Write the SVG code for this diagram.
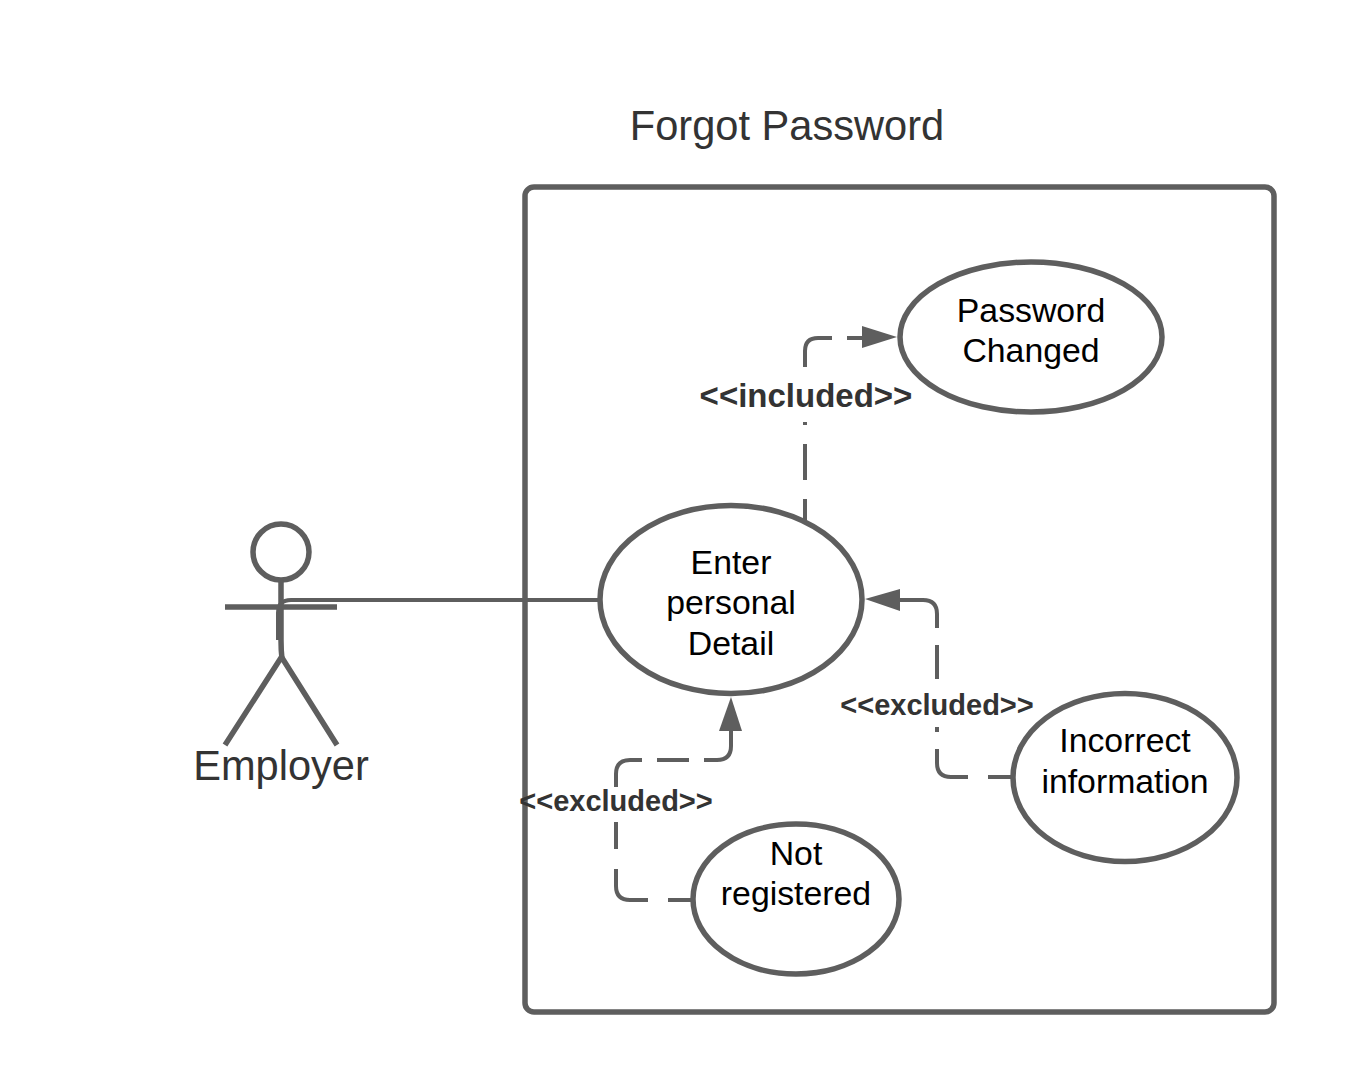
<svg xmlns="http://www.w3.org/2000/svg" width="1350" height="1088" viewBox="0 0 1350 1088">
<style>
text{font-family:"Liberation Sans",Arial,sans-serif;text-anchor:middle}
.s{fill:none;stroke:#5e5e5e;stroke-width:5.5}
.e{fill:#fff;stroke:#5e5e5e;stroke-width:5.5}
.c{fill:none;stroke:#5e5e5e;stroke-width:4}
.a{fill:#5e5e5e}
.t{font-size:33.8px;fill:#000}
.h{font-size:41.6px;fill:#333}
.l{font-weight:bold;fill:#333}
</style>
<rect width="1350" height="1088" fill="#fff"/>
<text class="h" x="787" y="139.500">Forgot Password</text>
<g id="system"><rect class="s" x="525" y="187" width="749" height="825" rx="9"/></g>
<g id="connectors">
<path class="c" d="M598 600H291Q278 600 278 613V640"/>
<path class="c" d="M805 520V499M805 480V444M805 425V422M805 367V351Q805 338 818 338H832M847 338H866"/>
<polygon class="a" points="862,326 897,337 862,348"/>
<path class="c" d="M692 900H668M648 900H630Q616 900 616 886V869M616 849V822M616 787V774Q616 760 630 760H642M657 760H689M704 760H717Q731 760 731 746V728"/>
<polygon class="a" points="731,697 742,731 719,731"/>
<path class="c" d="M1012 777H988M968 777H951Q937 777 937 763V749M937 732V727M937 679V645M937 628V614Q937 600 923 600H897"/>
<polygon class="a" points="865,599 900,589 900,611"/>
</g>
<g id="actor-employer">
<circle class="s" cx="281" cy="552" r="28"/>
<path class="s" d="M281 580V640Q281 650 282 659M225 607H337"/>
<path class="s" d="M281.500 657L225 745M281.500 657L337 745"/>
<text class="h" x="281" y="779.500">Employer</text>
</g>
<g id="password-changed"><ellipse class="e" cx="1031" cy="337" rx="131" ry="75"/><text class="t" x="1031" y="322">Password</text><text class="t" x="1031" y="362">Changed</text></g>
<g id="enter-personal-detail"><ellipse class="e" cx="731" cy="599.5" rx="131" ry="94"/><text class="t" x="731" y="574">Enter</text><text class="t" x="731" y="614">personal</text><text class="t" x="731" y="655">Detail</text></g>
<g id="incorrect-information"><ellipse class="e" cx="1125" cy="777.5" rx="112" ry="84"/><text class="t" x="1125" y="752">Incorrect</text><text class="t" x="1125" y="793">information</text></g>
<g id="not-registered"><ellipse class="e" cx="796" cy="899" rx="103" ry="75"/><text class="t" x="796" y="865">Not</text><text class="t" x="796" y="905">registered</text></g>
<g id="labels">
<text class="l" x="806" y="407" font-size="33">&lt;&lt;included&gt;&gt;</text>
<text class="l" x="616" y="811" font-size="29">&lt;&lt;excluded&gt;&gt;</text>
<text class="l" x="937" y="715" font-size="29">&lt;&lt;excluded&gt;&gt;</text>
</g>
</svg>
